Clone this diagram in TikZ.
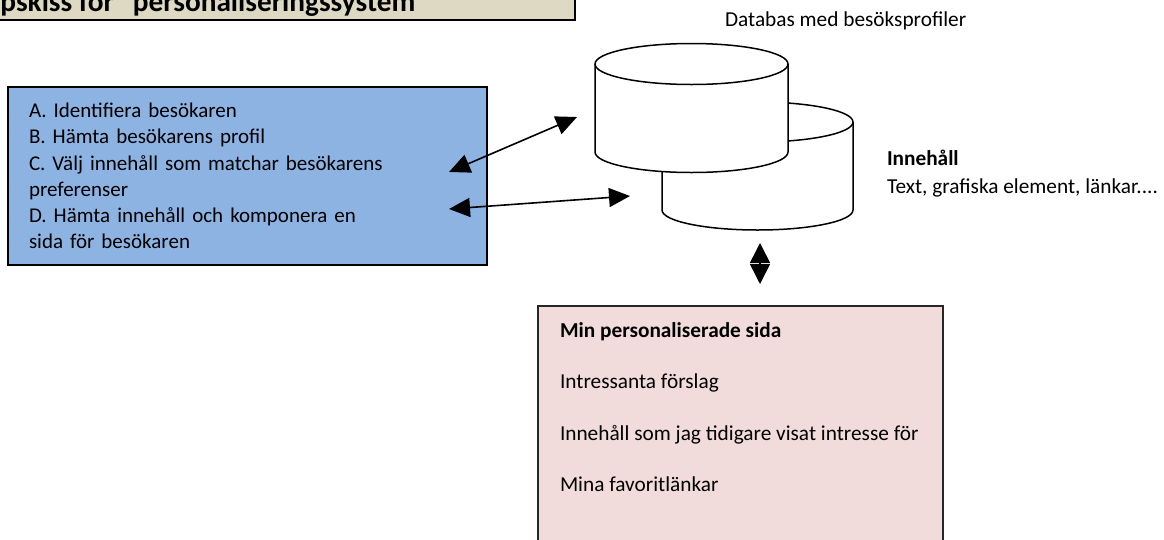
\documentclass[tikz,border=0pt]{standalone}
\usepackage{fontspec}
\setmainfont{Carlito}
\usetikzlibrary{arrows.meta}

\definecolor{stepblue}{HTML}{8DB3E2}
\definecolor{pagepink}{HTML}{F2DCDB}
\definecolor{titletan}{HTML}{DDD9C3}

\tikzset{
  every node/.style={inner sep=0pt, outer sep=0pt},
  txt/.style={anchor=base west, font=\fontsize{21.3}{26}\selectfont},
  boldtxt/.style={txt, font=\fontsize{21.3}{26}\selectfont\bfseries},
  cyl/.style={draw=black, fill=white, line width=1.5pt},
  link/.style={line width=1.6pt, {Triangle[length=21pt,width=19pt]}-{Triangle[length=21pt,width=19pt]}},
}

\begin{document}
\begin{tikzpicture}[x=1pt, y=1pt]
\useasboundingbox (0,0) rectangle (1164,-539);
\clip (0,0) rectangle (1164,-539);

% heading box, running past the top edge
\node[draw=black, line width=1.5pt, fill=titletan, anchor=south west,
      minimum width=600, minimum height=60] (titlebox) at (-25,-20) {};
\node[anchor=base west, font=\fontsize{29.3}{34}\selectfont\bfseries] (title)
      at (-68,-11) {Principskiss för ”personaliseringssystem”};

% process steps
\node[draw=black, line width=1.5pt, fill=stepblue, anchor=north west,
      minimum width=479, minimum height=178, text width=437, align=left,
      font=\fontsize{21}{26.3}\selectfont] (steps) at (8,-87)
  {A. Identifiera besökaren\\
   B. Hämta besökarens profil\\
   C. Välj innehåll som matchar besökarens\\
   preferenser\\
   D. Hämta innehåll och komponera en\\
   sida för besökaren};

% content database (behind)
\filldraw[cyl] (662,-122) -- (662,-210)
  arc[start angle=180, end angle=360, x radius=95.5, y radius=20]
  -- (853,-122)
  arc[start angle=0, end angle=180, x radius=95.5, y radius=20] -- cycle;
\draw[cyl, fill=none] (662,-122) arc[start angle=180, end angle=360, x radius=95.5, y radius=20];

% visitor profile database (front)
\filldraw[cyl] (595,-64) -- (595,-152)
  arc[start angle=180, end angle=360, x radius=96.5, y radius=20.5]
  -- (788,-64)
  arc[start angle=0, end angle=180, x radius=96.5, y radius=20.5] -- cycle;
\draw[cyl, fill=none] (595,-64) arc[start angle=180, end angle=360, x radius=96.5, y radius=20.5];

% labels
\node[txt] (dblabel) at (725,-26) {Databas med besöksprofiler};
\node[boldtxt] (contenthead) at (887,-165) {Innehåll};
\node[txt] (contenttext) at (887,-193) {Text, grafiska element, länkar....};

% personalised page
\node[draw=black!85, line width=2pt, fill=pagepink, anchor=north west,
      minimum width=405, minimum height=260] (page) at (538,-306) {};
\node[boldtxt] (pagehead) at (560,-337) {Min personaliserade sida};
\node[txt] (pageone) at (560,-388.5) {Intressanta förslag};
\node[txt] (pagetwo) at (560,-440) {Innehåll som jag tidigare visat intresse för};
\node[txt] (pagethree) at (560,-491.5) {Mina favoritlänkar};

% connectors
\coordinate (profA) at (449,-172);
\coordinate (profB) at (577,-117);
\coordinate (contA) at (449,-209);
\coordinate (contB) at (630,-196);
\coordinate (pageA) at (760,-243);
\coordinate (pageB) at (760,-284);
\draw[link] (profA) -- (profB);
\draw[link] (contA) -- (contB);
\draw[line width=1.6pt, {Triangle[length=20pt,width=20pt]}-{Triangle[length=20pt,width=20pt]}] (pageA) -- (pageB);
\end{tikzpicture}
\end{document}
